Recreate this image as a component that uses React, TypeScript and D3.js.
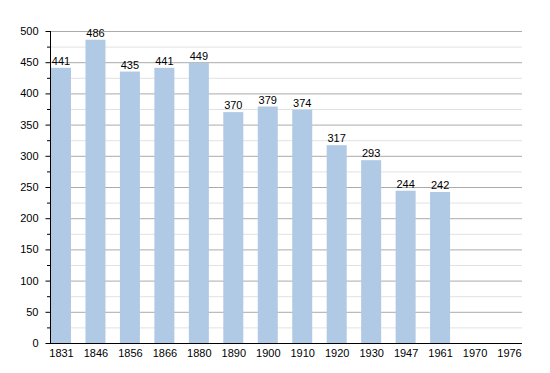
import React, { useEffect, useRef } from "react";
import * as d3 from "d3";

const years = ["1831", "1846", "1856", "1866", "1880", "1890", "1900", "1910", "1920", "1930", "1947", "1961", "1970", "1976"];
const population: (number | null)[] = [441, 486, 435, 441, 449, 370, 379, 374, 317, 293, 244, 242, null, null];
const yTicks = [0, 50, 100, 150, 200, 250, 300, 350, 400, 450, 500];

const App: React.FC = () => {
    const svgRef = useRef<SVGSVGElement>(null);

    useEffect(() => {
        if (!svgRef.current) return;
        const width = 550;
        const height = 373;
        const left = 50;
        const right = 522;
        const top = 31;
        const bottom = 343;
        const barWidth = 20;

        const svg = d3.select(svgRef.current)
            .attr("width", width)
            .attr("height", height)
            .style("font-family", "'Liberation Sans', Arial, sans-serif");
        svg.selectAll("*").remove();

        const x = d3.scalePoint<string>().domain(years).range([61, 509]);
        const y = d3.scaleLinear().domain([0, 500]).range([bottom, top]);

        // grid: minor every 25, major every 50
        const minor = d3.range(25, 500, 50);
        svg.append("g")
            .selectAll("line")
            .data(minor)
            .join("line")
            .attr("x1", left)
            .attr("x2", right)
            .attr("y1", (d) => y(d) + 0.5)
            .attr("y2", (d) => y(d) + 0.5)
            .attr("stroke", "#e2e2e2");
        svg.append("g")
            .selectAll("line")
            .data(yTicks.filter((d) => d > 0))
            .join("line")
            .attr("x1", left)
            .attr("x2", right)
            .attr("y1", (d) => y(d) + 0.5)
            .attr("y2", (d) => y(d) + 0.5)
            .attr("stroke", "#ababab");

        const data = years.map((yr, i) => ({ yr, v: population[i] })).filter((d) => d.v !== null) as { yr: string; v: number }[];

        svg.append("g")
            .selectAll("rect")
            .data(data)
            .join("rect")
            .attr("x", (d) => x(d.yr)! - barWidth / 2)
            .attr("y", (d) => y(d.v))
            .attr("width", barWidth)
            .attr("height", (d) => bottom - y(d.v))
            .attr("fill", "#b0c9e5");

        svg.append("g")
            .selectAll("text")
            .data(data)
            .join("text")
            .attr("x", (d) => x(d.yr)!)
            .attr("y", (d) => y(d.v) - 3)
            .attr("text-anchor", "middle")
            .attr("font-size", 11)
            .attr("fill", "#000")
            .text((d) => d.v);

        // y axis
        const yAxis = svg.append("g")
            .attr("transform", `translate(${left + 0.5},0)`)
            .call(d3.axisLeft(y).tickValues(yTicks).tickSize(5).tickPadding(7));
        yAxis.select(".domain").remove();
        yAxis.selectAll(".tick text").attr("font-size", 11).attr("fill", "#000").style("font-family", "'Liberation Sans', Arial, sans-serif");
        yAxis.selectAll(".tick line").attr("stroke", "#000");
        svg.append("g")
            .selectAll("line")
            .data(minor)
            .join("line")
            .attr("x1", left - 3)
            .attr("x2", left)
            .attr("y1", (d) => y(d) + 0.5)
            .attr("y2", (d) => y(d) + 0.5)
            .attr("stroke", "#000");
        svg.append("line")
            .attr("x1", left + 0.5)
            .attr("x2", left + 0.5)
            .attr("y1", top)
            .attr("y2", bottom + 1)
            .attr("stroke", "#000");

        // x axis
        const xAxis = svg.append("g")
            .attr("transform", `translate(0,${bottom})`)
            .call(d3.axisBottom(x).tickSize(0).tickPadding(6));
        xAxis.select(".domain").remove();
        xAxis.selectAll(".tick text").attr("font-size", 11).attr("fill", "#000").style("font-family", "'Liberation Sans', Arial, sans-serif");
        svg.append("line")
            .attr("x1", left)
            .attr("x2", right)
            .attr("y1", bottom + 0.5)
            .attr("y2", bottom + 0.5)
            .attr("stroke", "#000");
    }, []);

    return <svg ref={svgRef} style={{ position: "absolute", left: 0, top: 0 }} />;
};

export default App;
